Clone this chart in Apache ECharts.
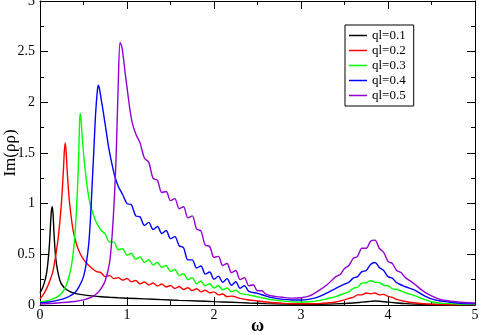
<!DOCTYPE html>
<html>
<head>
<meta charset="utf-8">
<script src="https://cdn.jsdelivr.net/npm/echarts@6/dist/echarts.min.js"></script>
<style>
  html, body { margin: 0; padding: 0; background: #fff; }
  #chart { width: 479px; height: 335px; }
</style>
</head>
<body>
<div id="chart"></div>
<script>
// ql = 0.1
const ql1X = [0, 0.03, 0.06, 0.08, 0.1, 0.11, 0.12, 0.13, 0.14, 0.15, 0.16, 0.17, 0.18, 0.2, 0.23, 0.26, 0.3, 0.35, 0.4, 0.5, 0.6, 0.7, 0.8, 0.9, 1.0, 1.2, 1.4, 1.6, 1.8, 2.0, 2.2, 2.4, 2.6, 2.8, 3.0, 3.2, 3.4, 3.6, 3.7, 3.8, 3.85, 3.9, 4.0, 4.1, 4.2, 4.4, 4.6, 4.8, 5.0]
const ql1Y = [0.12, 0.17, 0.25, 0.34, 0.5, 0.62, 0.78, 0.92, 0.97, 0.9, 0.72, 0.58, 0.47, 0.35, 0.24, 0.19, 0.155, 0.13, 0.115, 0.1, 0.09, 0.082, 0.076, 0.071, 0.067, 0.06, 0.053, 0.046, 0.04, 0.033, 0.027, 0.02, 0.014, 0.009, 0.006, 0.007, 0.011, 0.02, 0.028, 0.036, 0.04, 0.037, 0.028, 0.02, 0.014, 0.007, 0.004, 0.002, 0.001]

// ql = 0.2
const ql2X = [0, 0.05, 0.1, 0.15, 0.2, 0.23, 0.25, 0.27, 0.28, 0.29, 0.3, 0.31, 0.33, 0.35, 0.38, 0.42, 0.46, 0.5, 0.55, 0.6, 0.65, 0.7, 0.75, 0.8, 0.85, 0.9, 0.95, 1.0, 1.05, 1.1, 1.15, 1.2, 1.25, 1.3, 1.35, 1.4, 1.45, 1.5, 1.55, 1.6, 1.65, 1.7, 1.75, 1.8, 1.85, 1.9, 1.95, 2.0, 2.05, 2.1, 2.15, 2.2, 2.3, 2.4, 2.5, 2.6, 2.7, 2.8, 2.9, 3.0, 3.1, 3.2, 3.3, 3.4, 3.5, 3.55, 3.6, 3.65, 3.7, 3.75, 3.8, 3.85, 3.9, 3.95, 4.0, 4.05, 4.1, 4.2, 4.3, 4.4, 4.5, 4.7, 5.0]
const ql2Y = [0.06, 0.12, 0.21, 0.34, 0.6, 0.84, 1.05, 1.35, 1.52, 1.6, 1.52, 1.36, 1.1, 0.93, 0.74, 0.6, 0.51, 0.45, 0.4, 0.36, 0.33, 0.32, 0.28, 0.29, 0.26, 0.27, 0.245, 0.262, 0.228, 0.242, 0.208, 0.227, 0.198, 0.217, 0.188, 0.207, 0.178, 0.192, 0.163, 0.182, 0.153, 0.17, 0.143, 0.16, 0.13, 0.145, 0.12, 0.13, 0.1, 0.108, 0.082, 0.088, 0.065, 0.05, 0.04, 0.03, 0.022, 0.016, 0.013, 0.012, 0.012, 0.014, 0.02, 0.03, 0.05, 0.065, 0.075, 0.1, 0.1, 0.118, 0.11, 0.118, 0.1, 0.105, 0.085, 0.075, 0.055, 0.035, 0.022, 0.013, 0.008, 0.003, 0.001]

// ql = 0.3
const ql3X = [0, 0.1, 0.2, 0.27, 0.32, 0.36, 0.39, 0.42, 0.44, 0.45, 0.46, 0.47, 0.48, 0.5, 0.52, 0.54, 0.57, 0.61, 0.65, 0.7, 0.75, 0.8, 0.85, 0.9, 0.95, 1.0, 1.05, 1.1, 1.15, 1.2, 1.25, 1.3, 1.35, 1.4, 1.45, 1.5, 1.55, 1.6, 1.65, 1.7, 1.75, 1.8, 1.85, 1.9, 1.95, 2.0, 2.05, 2.1, 2.15, 2.2, 2.25, 2.3, 2.4, 2.5, 2.6, 2.7, 2.8, 2.9, 3.0, 3.1, 3.2, 3.3, 3.4, 3.5, 3.55, 3.6, 3.65, 3.7, 3.75, 3.8, 3.85, 3.9, 3.95, 4.0, 4.05, 4.1, 4.2, 4.3, 4.4, 4.5, 4.6, 4.8, 5.0]
const ql3Y = [0.03, 0.045, 0.08, 0.14, 0.24, 0.38, 0.58, 0.95, 1.35, 1.65, 1.89, 1.85, 1.72, 1.5, 1.33, 1.18, 1.02, 0.9, 0.81, 0.74, 0.7, 0.62, 0.62, 0.545, 0.555, 0.49, 0.51, 0.45, 0.475, 0.42, 0.447, 0.395, 0.42, 0.37, 0.39, 0.33, 0.35, 0.29, 0.31, 0.25, 0.27, 0.21, 0.235, 0.19, 0.21, 0.168, 0.19, 0.15, 0.168, 0.13, 0.145, 0.115, 0.1, 0.08, 0.062, 0.048, 0.038, 0.031, 0.029, 0.032, 0.043, 0.062, 0.083, 0.115, 0.13, 0.165, 0.175, 0.215, 0.22, 0.24, 0.225, 0.222, 0.195, 0.19, 0.16, 0.155, 0.12, 0.095, 0.06, 0.032, 0.018, 0.01, 0.006]

// ql = 0.4
const ql4X = [0, 0.1, 0.2, 0.3, 0.4, 0.46, 0.5, 0.53, 0.56, 0.58, 0.6, 0.62, 0.64, 0.66, 0.67, 0.68, 0.7, 0.73, 0.76, 0.79, 0.82, 0.86, 0.9, 0.95, 1.0, 1.05, 1.1, 1.15, 1.2, 1.25, 1.3, 1.35, 1.4, 1.45, 1.5, 1.55, 1.6, 1.65, 1.7, 1.75, 1.8, 1.85, 1.9, 1.95, 2.0, 2.05, 2.1, 2.15, 2.2, 2.25, 2.3, 2.35, 2.4, 2.5, 2.6, 2.7, 2.8, 2.9, 3.0, 3.1, 3.2, 3.3, 3.4, 3.5, 3.55, 3.6, 3.65, 3.7, 3.75, 3.8, 3.85, 3.9, 3.95, 4.0, 4.05, 4.1, 4.2, 4.3, 4.4, 4.5, 4.6, 4.7, 4.8, 5.0]
const ql4Y = [0.02, 0.03, 0.045, 0.07, 0.12, 0.2, 0.28, 0.4, 0.6, 0.85, 1.2, 1.55, 1.9, 2.12, 2.17, 2.15, 2.05, 1.89, 1.72, 1.55, 1.42, 1.27, 1.17, 1.09, 1.0, 0.99, 0.88, 0.87, 0.785, 0.815, 0.745, 0.775, 0.705, 0.735, 0.655, 0.675, 0.585, 0.565, 0.445, 0.445, 0.365, 0.385, 0.305, 0.325, 0.255, 0.285, 0.225, 0.26, 0.195, 0.23, 0.165, 0.19, 0.135, 0.115, 0.088, 0.068, 0.056, 0.05, 0.049, 0.058, 0.08, 0.12, 0.165, 0.205, 0.225, 0.265, 0.28, 0.33, 0.34, 0.4, 0.42, 0.37, 0.34, 0.28, 0.265, 0.22, 0.18, 0.15, 0.1, 0.06, 0.04, 0.03, 0.02, 0.012]

// ql = 0.5
const ql5X = [0, 0.2, 0.4, 0.5, 0.6, 0.65, 0.7, 0.75, 0.8, 0.83, 0.86, 0.88, 0.9, 0.92, 0.94, 0.96, 0.98, 1.0, 1.03, 1.06, 1.1, 1.15, 1.2, 1.25, 1.3, 1.35, 1.4, 1.45, 1.5, 1.55, 1.6, 1.65, 1.7, 1.75, 1.8, 1.85, 1.9, 1.95, 2.0, 2.05, 2.1, 2.15, 2.2, 2.25, 2.3, 2.35, 2.4, 2.45, 2.5, 2.55, 2.6, 2.7, 2.8, 2.9, 3.0, 3.1, 3.2, 3.3, 3.4, 3.45, 3.5, 3.55, 3.6, 3.65, 3.7, 3.75, 3.8, 3.85, 3.9, 3.95, 4.0, 4.05, 4.1, 4.15, 4.2, 4.3, 4.4, 4.5, 4.6, 4.7, 4.8, 5.0]
const ql5Y = [0.01, 0.02, 0.035, 0.05, 0.08, 0.11, 0.16, 0.24, 0.42, 0.7, 1.15, 1.6, 2.2, 2.59, 2.55, 2.43, 2.28, 2.15, 1.95, 1.8, 1.69, 1.6, 1.45, 1.41, 1.25, 1.23, 1.11, 1.12, 1.03, 1.05, 0.95, 0.97, 0.86, 0.88, 0.75, 0.73, 0.59, 0.58, 0.47, 0.48, 0.39, 0.41, 0.32, 0.34, 0.25, 0.27, 0.19, 0.2, 0.14, 0.14, 0.105, 0.085, 0.075, 0.068, 0.072, 0.09, 0.14, 0.2, 0.28, 0.3, 0.36, 0.39, 0.46, 0.48, 0.56, 0.56, 0.63, 0.64, 0.56, 0.52, 0.43, 0.41, 0.34, 0.32, 0.27, 0.21, 0.14, 0.09, 0.056, 0.04, 0.03, 0.02]

const seriesNames = ['ql=0.1', 'ql=0.2', 'ql=0.3', 'ql=0.4', 'ql=0.5']
const seriesColors = ['#000000', '#ff0000', '#00ff00', '#0000ff', '#9400d3']
const xTicks = [0, 1, 2, 3, 4, 5]
const yTicks = [0, 0.5, 1, 1.5, 2, 2.5, 3]

const allX = [ql1X, ql2X, ql3X, ql4X, ql5X]
const allY = [ql1Y, ql2Y, ql3Y, ql4Y, ql5Y]

const font = 'Liberation Serif'

const chart = echarts.init(document.getElementById('chart'))

const frameAxis = (extra) => Object.assign({
  type: 'value',
  nameMoveOverlap: false,
  axisLine: { show: true, onZero: false, lineStyle: { color: '#000', width: 1 } },
  axisTick: { show: true, inside: true, length: 8, lineStyle: { color: '#000' } },
  minorTick: { show: true, splitNumber: 2, length: 4, lineStyle: { color: '#000' } },
  splitLine: { show: false },
  minorSplitLine: { show: false }
}, extra)

const xAxisBase = {
  min: xTicks[0],
  max: xTicks[xTicks.length - 1],
  interval: 1
}
const yAxisBase = {
  min: yTicks[0],
  max: yTicks[yTicks.length - 1],
  interval: 0.5
}

const option = {
  animation: false,
  backgroundColor: '#fff',
  grid: { left: 40, right: 4, top: 1, bottom: 30, containLabel: false, outerBoundsMode: 'none' },
  legend: {
    orient: 'vertical',
    left: 345,
    top: 25,
    data: seriesNames,
    icon: 'rect',
    itemWidth: 18,
    itemHeight: 1.5,
    itemGap: 2,
    padding: [4, 8, 4, 4],
    borderColor: '#000',
    borderWidth: 1,
    backgroundColor: '#fff',
    textStyle: { fontFamily: font, fontSize: 13, color: '#000', lineHeight: 13 }
  },
  xAxis: [
    frameAxis(Object.assign({}, xAxisBase, {
      position: 'bottom',
      name: 'ω',
      nameLocation: 'middle',
      nameGap: 12,
      nameTextStyle: { fontFamily: font, fontSize: 18, fontWeight: 'bold', color: '#000' },
      axisLabel: { fontFamily: font, fontSize: 14, color: '#000', margin: 3 }
    })),
    frameAxis(Object.assign({}, xAxisBase, {
      position: 'top',
      axisLabel: { show: false }
    }))
  ],
  yAxis: [
    frameAxis(Object.assign({}, yAxisBase, {
      position: 'left',
      name: 'Im(ρρ)',
      nameLocation: 'middle',
      nameRotate: 90,
      nameGap: 21,
      nameTextStyle: { fontFamily: font, fontSize: 17, color: '#000' },
      axisLabel: { fontFamily: font, fontSize: 14, color: '#000', margin: 5 }
    })),
    frameAxis(Object.assign({}, yAxisBase, {
      position: 'right',
      axisLabel: { show: false }
    }))
  ],
  series: seriesNames.map((name, k) => ({
    name: name,
    type: 'line',
    xAxisIndex: 0,
    yAxisIndex: 0,
    showSymbol: false,
    smooth: 0.3,
    lineStyle: { width: 1.4, color: seriesColors[k] },
    itemStyle: { color: seriesColors[k] },
    data: allX[k].map((x, i) => [x, allY[k][i]])
  }))
}

chart.setOption(option)
</script>
</body>
</html>
